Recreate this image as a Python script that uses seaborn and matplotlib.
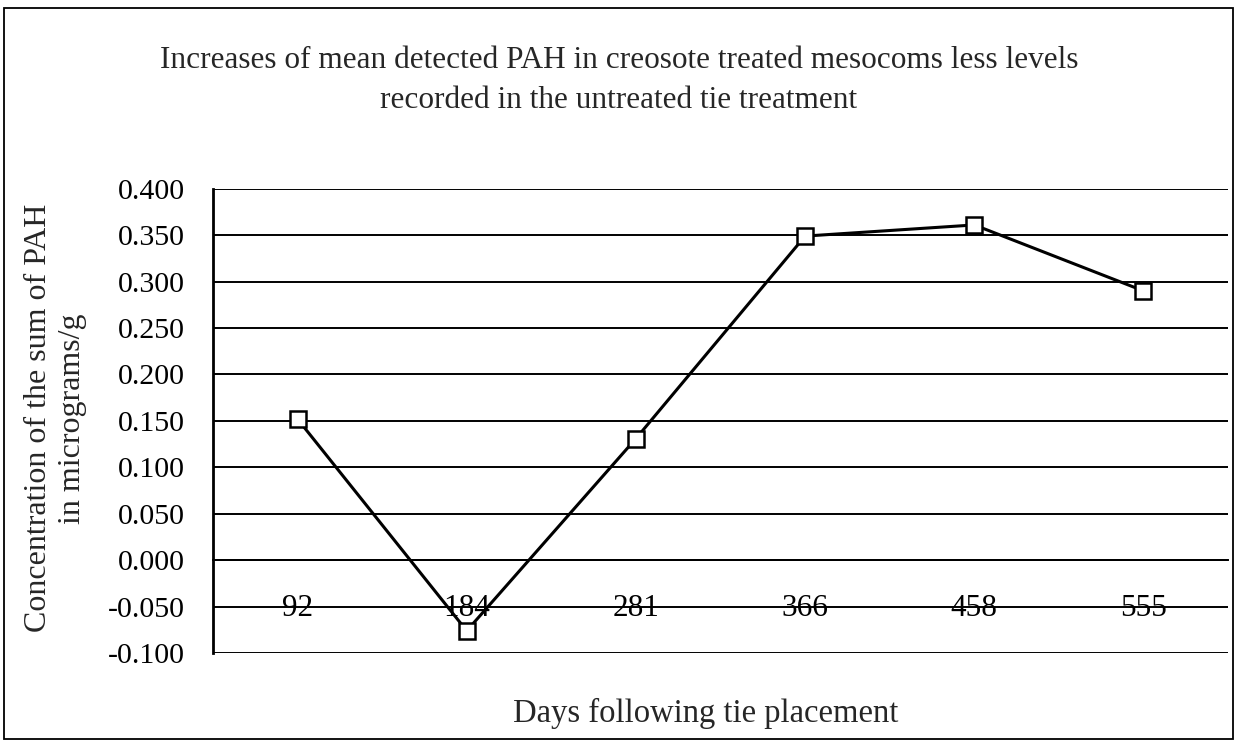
import matplotlib
matplotlib.use('Agg')
import matplotlib.pyplot as plt
import seaborn as sns
import pandas as pd
from matplotlib.patches import Rectangle
from matplotlib.ticker import FixedLocator, FuncFormatter

# data
days = ['92', '184', '281', '366', '458', '555']
pah_conc = [0.152, -0.076, 0.131, 0.349, 0.361, 0.290]
y_ticks = [-0.100, -0.050, 0.000, 0.050, 0.100, 0.150, 0.200, 0.250, 0.300, 0.350, 0.400]

title = ('Increases of mean detected PAH in creosote treated mesocoms less levels\n'
         'recorded in the untreated tie treatment')
x_label = 'Days following tie placement'
y_label = 'Concentration of the sum of PAH\nin micrograms/g'

df = pd.DataFrame({'days': days, 'conc': pah_conc})

sns.set_style('white')
plt.rcParams['font.family'] = ['Liberation Serif', 'DejaVu Serif']

fig = plt.figure(figsize=(12.38, 7.43), dpi=100)
ax = fig.add_axes([0.172, 0.121, 0.820, 0.625])

sns.lineplot(data=df, x='days', y='conc', sort=False, ax=ax,
             color='black', linewidth=2.2, marker='s', markersize=11,
             markerfacecolor='white', markeredgecolor='black', markeredgewidth=1.8)

ax.set_xlim(-0.5, len(days) - 0.5)
ax.set_ylim(y_ticks[0], y_ticks[-1])
ax.set_yticks(y_ticks)
ax.yaxis.set_major_formatter(FuncFormatter(lambda v, p: f'{v:.3f}'))
ax.grid(axis='y', color='black', linewidth=1.4)
ax.set_axisbelow(True)

# category axis sits on the zero line
for s in ['top', 'right']:
    ax.spines[s].set_visible(False)
ax.spines['bottom'].set_position(('data', 0))
ax.spines['bottom'].set_linewidth(1.4)
ax.spines['left'].set_linewidth(2.0)
ax.spines['left'].set_color('black')
ax.spines['bottom'].set_color('black')
ax.xaxis.set_minor_locator(FixedLocator([i + 0.5 for i in range(len(days) - 1)]))
ax.tick_params(axis='x', which='major', length=0, pad=24, labelsize=22.5, colors='black')
ax.tick_params(axis='x', which='minor', length=7, width=1.2, direction='out', color='black')
ax.tick_params(axis='y', length=9, width=1.2, direction='out', pad=11, labelsize=21.5, colors='black')
ax.set_xlabel('')
ax.set_ylabel('')

fig.text(0.5, 0.891, title, ha='center', va='center', fontsize=22.5, linespacing=1.5)
fig.text(0.570, 0.040, x_label, ha='center', va='center', fontsize=23.5)
fig.text(0.045, 0.437, y_label, ha='center', va='center', rotation=90,
         fontsize=23, multialignment='center', linespacing=1.25)

# outer chart frame
fig.patches.append(Rectangle((0.003, 0.006), 0.993, 0.983, transform=fig.transFigure,
                             fill=False, edgecolor='black', linewidth=1.3))

fig.savefig('out.png', dpi=100)
